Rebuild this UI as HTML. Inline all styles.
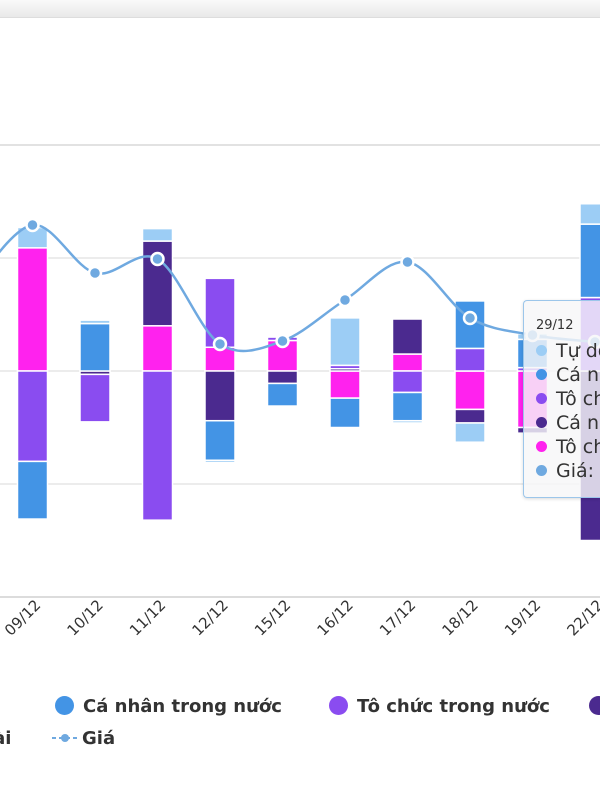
<!DOCTYPE html>
<html><head><meta charset="utf-8">
<style>
html,body{margin:0;padding:0;width:600px;height:800px;overflow:hidden;background:#fff;font-family:"Liberation Sans","DejaVu Sans",sans-serif;}
#wrap{position:relative;width:600px;height:800px;overflow:hidden;}
#top{position:absolute;left:0;top:0;width:600px;height:17px;background:linear-gradient(#fafafa,#e9e9e9);border-bottom:1px solid #ddd;}
#tooltip{position:absolute;left:523px;top:300px;width:76px;height:196px;background:rgba(246,246,248,0.82);border:1px solid #9cc6ea;border-right:none;border-radius:4px 0 0 4px;box-shadow:0 1px 3px rgba(0,0,0,0.15);font-family:"DejaVu Sans",sans-serif;color:#333;overflow:hidden;}
#tooltip .hd{position:absolute;left:12px;top:17px;font-size:13px;}
#tooltip .row{position:absolute;left:12px;font-size:19px;white-space:nowrap;line-height:20px;}
#tooltip .dot{display:inline-block;width:11px;height:11px;border-radius:50%;margin-right:9px;vertical-align:1px;}
.leg{position:absolute;font-size:18px;font-weight:bold;color:#333;white-space:nowrap;font-family:"DejaVu Sans",sans-serif;}
.leg .c{display:inline-block;width:19px;height:19px;border-radius:50%;margin-right:9px;vertical-align:-3px;}
</style></head><body>
<div id="wrap">
<div id="top"></div>
<svg id="chart" width="600" height="800" style="position:absolute;left:0;top:0"></svg>

<div class="leg" style="left:55px;top:696px"><span class="c" style="background:#4394e5"></span>Cá nhân trong nước</div>
<div class="leg" style="left:329px;top:696px"><span class="c" style="background:#8a4cf0"></span>Tô chức trong nước</div>
<div class="leg" style="left:589px;top:696px"><span class="c" style="background:#4b2a8f"></span>Cá nhân nước ngoài</div>
<div class="leg" style="left:-45px;top:728px">ngoài</div>
<div class="leg" style="left:52px;top:728px"><svg width="26" height="12" style="vertical-align:0;margin-right:4px"><line x1="0" y1="6" x2="26" y2="6" stroke="#6fa9e0" stroke-width="2" stroke-dasharray="4,3"/><circle cx="13" cy="6" r="4" fill="#6fa9e0"/></svg>Giá</div>

<div id="tooltip">
<div class="hd">29/12</div>
<div class="row" style="top:40px"><span class="dot" style="background:#9ccdf5"></span>Tự doanh</div>
<div class="row" style="top:64px"><span class="dot" style="background:#4394e5"></span>Cá nhân trong nước</div>
<div class="row" style="top:88px"><span class="dot" style="background:#8a4cf0"></span>Tô chức trong nước</div>
<div class="row" style="top:112px"><span class="dot" style="background:#4b2a8f"></span>Cá nhân nước ngoài</div>
<div class="row" style="top:136px"><span class="dot" style="background:#ff22ee"></span>Tô chức nước ngoài</div>
<div class="row" style="top:160px"><span class="dot" style="background:#6fa9e0"></span>Giá:</div>
</div>
</div>

<script>
const categories = ["08/12","09/12","10/12","11/12","12/12","15/12","16/12","17/12","18/12","19/12","22/12"];
const tuDoanh   = [0, 18, 3, 11, -2, 0, 42, -2, -17, 5, 18];
const caNhanTN  = [0, -51, 42, 0, -35, -20, -26, -25, 42, 25, 65];
const toChucTN  = [0, -80, -42, -132, 61, 3, 3, -19, 20, 3, 65];
const caNhanNN  = [0, 0, -3, 75, -44, -11, 2, 31, -12, -5, -150];
const toChucNN  = [0, 109, 0, 40, 21, 27, -24, 15, -34, -50, 0];
const price     = [31.0, 37.5, 32.7, 34.1, 25.6, 25.9, 30.0, 33.8, 28.2, 26.5, 25.8];
const gridVals  = [200, 100, 0, -100, -200];

const NS="http://www.w3.org/2000/svg";
const svg=document.getElementById('chart');
const x = i => -30 + i*62.5;
const y = v => 371 - v*1.13;
const yp = p => 600 - p*10;
function mk(tag,attrs){const e=document.createElementNS(NS,tag);for(const k in attrs)e.setAttribute(k,attrs[k]);svg.appendChild(e);return e;}

gridVals.forEach(v=>{
  const g=mk('line',{x1:0,x2:600,y1:y(v),y2:y(v),stroke:v===200?'#e2e2e2':'#e6e6e6','stroke-width':v===200?2:1.5});
  
  
});
const ax=mk('line',{x1:0,x2:600,y1:597,y2:597,stroke:'#dcdcdc','stroke-width':2});



const series=[
 {name:'to-chuc-nuoc-ngoai',data:toChucNN,color:'#ff22ee'},
 {name:'ca-nhan-nuoc-ngoai',data:caNhanNN,color:'#4b2a8f'},
 {name:'to-chuc-trong-nuoc',data:toChucTN,color:'#8a4cf0'},
 {name:'ca-nhan-trong-nuoc',data:caNhanTN,color:'#4394e5'},
 {name:'tu-doanh',data:tuDoanh,color:'#9ccdf5'}
];
const bw=30;
categories.forEach((c,i)=>{
  let pos=0,neg=0;
  series.forEach(s=>{
    const v=s.data[i]; if(!v) return;
    let y0,y1;
    if(v>0){y0=y(pos+v);y1=y(pos);pos+=v;} else {y0=y(neg);y1=y(neg+v);neg+=v;}
    const r=mk('rect',{x:x(i)-bw/2,y:y0,width:bw,height:Math.max(0,y1-y0),fill:s.color,stroke:'#fff','stroke-width':1.5});
    
    
  });
  if(i>0){
    const tx=x(i)+9, ty=606;
    const t=mk('text',{x:tx,y:ty,'text-anchor':'end','font-size':15,fill:'#333',transform:`rotate(-45 ${tx} ${ty})`,'font-family':'"DejaVu Sans",sans-serif'});
    t.textContent=c;
    
    
  }
});

const pts=price.map((p,i)=>[x(i),yp(p)]);
let d=`M${pts[0][0]},${pts[0][1]}`;
for(let i=0;i<pts.length-1;i++){
  const p0=pts[i-1]||pts[i],p1=pts[i],p2=pts[i+1],p3=pts[i+2]||p2;
  const t=0.5/3;
  d+=` C${p1[0]+(p2[0]-p0[0])*t},${p1[1]+(p2[1]-p0[1])*t} ${p2[0]-(p3[0]-p1[0])*t},${p2[1]-(p3[1]-p1[1])*t} ${p2[0]},${p2[1]}`;
}
const line=mk('path',{d:d,fill:'none',stroke:'#6fa9e0','stroke-width':2.5});


pts.forEach((p,i)=>{
  const c=mk('circle',{cx:p[0],cy:p[1],r:6,fill:'#6fa9e0',stroke:'#fff','stroke-width':2.5});
  
  
});
</script>
</body></html>
